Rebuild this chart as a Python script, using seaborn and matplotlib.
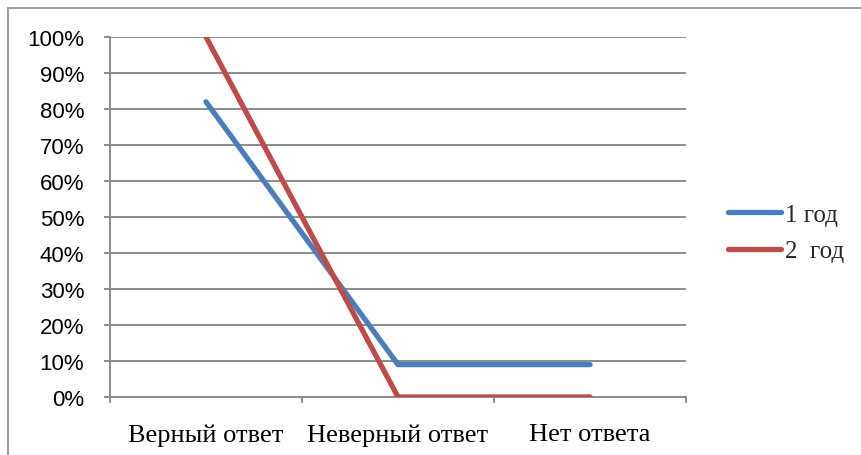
import pandas as pd
import numpy as np
import matplotlib.pyplot as plt
import seaborn as sns
from matplotlib.lines import Line2D

# Данные с рисунка
categories = ['Верный ответ', 'Неверный ответ', 'Нет ответа']
year1 = [82, 9, 9]
year2 = [100, 0, 0]
series_names = ['1 год', '2  год']
y_ticks = list(range(0, 101, 10))

df = pd.DataFrame({
    'cat': categories * 2,
    'value': year1 + year2,
    'series': [series_names[0]] * 3 + [series_names[1]] * 3,
})

sns.set_theme(style="white")
colors = ['#4A7EBB', '#BE4B48']

fig = plt.figure(figsize=(8.62, 4.56), dpi=100)
ax = fig.add_axes([110 / 862, 1 - 398 / 456, 576 / 862, 360 / 456])

# Сетка
for t in y_ticks:
    ax.axhline(t, color='#8C8C8C', lw=1.4, zorder=0)

sns.lineplot(data=df, x='cat', y='value', hue='series', palette=colors,
             lw=3.8, ax=ax, legend=False, sort=False, zorder=3,
             solid_capstyle='round')

ax.set_xlim(-0.5, 2.5)
ax.set_ylim(0, 100)
ax.set_yticks(y_ticks)
ax.set_yticklabels([f'{t}%' for t in y_ticks], fontsize=16,
                   family='Liberation Sans')
ax.set_xticks([0, 1, 2])
ax.set_xticklabels(categories, fontsize=19, family='Liberation Serif')
ax.set_xticks([-0.5, 0.5, 1.5, 2.5], minor=True)
ax.tick_params(axis='x', which='major', length=0, pad=19, colors='black')
ax.tick_params(axis='x', which='minor', length=4.5, width=1.4, color='#8C8C8C',
               bottom=True, direction='out')
ax.tick_params(axis='y', length=4.5, width=1.4, color='#8C8C8C', left=True,
               direction='out', pad=14, colors='black')
ax.set_xlabel('')
ax.set_ylabel('')
for s in ['top', 'right']:
    ax.spines[s].set_visible(False)
for s in ['left', 'bottom']:
    ax.spines[s].set_color('#8C8C8C')
    ax.spines[s].set_linewidth(1.4)

handles = [Line2D([], [], color=c, lw=3.8, solid_capstyle='round') for c in colors]
fig.legend(handles, series_names, loc='center left',
           bbox_to_anchor=(706 / 862, 1 - 234 / 456), frameon=False,
           prop={'family': 'Liberation Serif', 'size': 18},
           handlelength=2.1, handletextpad=0.15, labelspacing=0.55)

# Рамка
fig.add_artist(Line2D([8 / 862, 8 / 862], [0, 1 - 9 / 456], color='#A0A0A0', lw=1.5))
fig.add_artist(Line2D([8 / 862, 1], [1 - 9 / 456, 1 - 9 / 456], color='#A0A0A0', lw=1.5))

plt.savefig('out.png', dpi=100)
